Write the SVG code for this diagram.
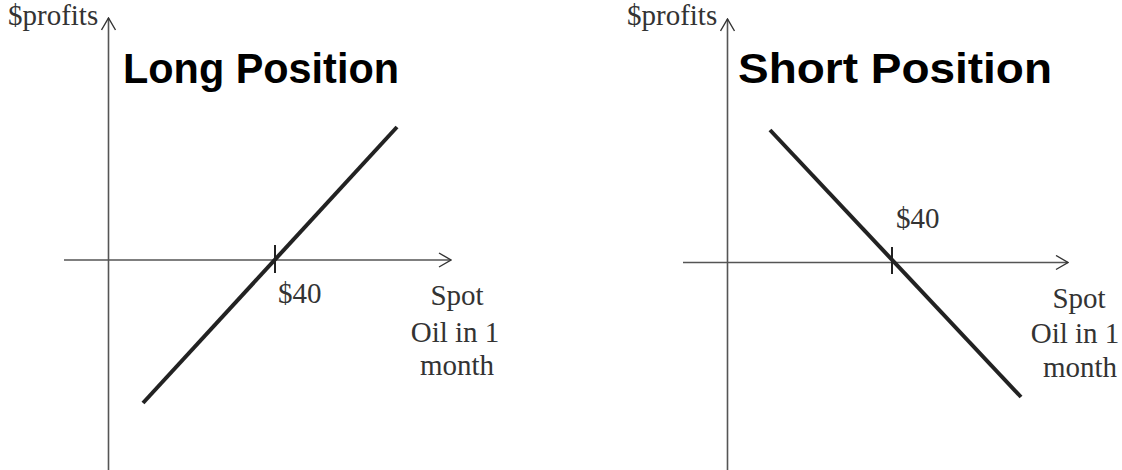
<svg xmlns="http://www.w3.org/2000/svg" width="1122" height="470" viewBox="0 0 1122 470">
<style>
.axis{stroke:#555;stroke-width:1.6;fill:none}
.curve{stroke:#222;stroke-width:4;fill:none}
.tick{stroke:#222;stroke-width:2}
.lbl{font-family:"Liberation Serif","Times New Roman",serif;font-size:29px;fill:#333}
.title{font-family:"Liberation Sans",Arial,sans-serif;font-size:43px;font-weight:bold;fill:#000}
</style>
<defs>
<marker id="arr" viewBox="0 0 14 16" refX="13" refY="8" markerWidth="14" markerHeight="16" markerUnits="userSpaceOnUse" orient="auto">
<path d="M1,1 L13,8 L1,15" fill="none" stroke="#333" stroke-width="1.4"/>
</marker>
</defs>
<g id="connectors">
<line class="axis" x1="108.5" y1="470" x2="108.5" y2="18" marker-end="url(#arr)"/>
<line class="axis" x1="64" y1="260" x2="451" y2="260" marker-end="url(#arr)"/>
<line class="tick" x1="275" y1="245" x2="275" y2="273"/>
<line class="curve" x1="143" y1="403" x2="397" y2="127"/>
<line class="axis" x1="727.5" y1="470" x2="727.5" y2="19" marker-end="url(#arr)"/>
<line class="axis" x1="683" y1="262.5" x2="1068" y2="262.5" marker-end="url(#arr)"/>
<line class="tick" x1="892" y1="247" x2="892" y2="274"/>
<line class="curve" x1="770" y1="130" x2="1021" y2="397"/>
</g>
<g id="long">
<text class="lbl" x="8" y="25">$profits</text>
<text class="title" x="123" y="83" textLength="276" lengthAdjust="spacingAndGlyphs">Long Position</text>
<text class="lbl" x="278" y="303">$40</text>
<text class="lbl" text-anchor="middle" x="457" y="305">Spot</text>
<text class="lbl" text-anchor="middle" x="455" y="342">Oil in 1</text>
<text class="lbl" text-anchor="middle" x="457" y="375">month</text>
</g>
<g id="short">
<text class="lbl" x="627" y="25">$profits</text>
<text class="title" x="738" y="83" textLength="314" lengthAdjust="spacingAndGlyphs">Short Position</text>
<text class="lbl" x="896" y="228">$40</text>
<text class="lbl" text-anchor="middle" x="1079" y="308">Spot</text>
<text class="lbl" text-anchor="middle" x="1075" y="343">Oil in 1</text>
<text class="lbl" text-anchor="middle" x="1080" y="377">month</text>
</g>
</svg>
